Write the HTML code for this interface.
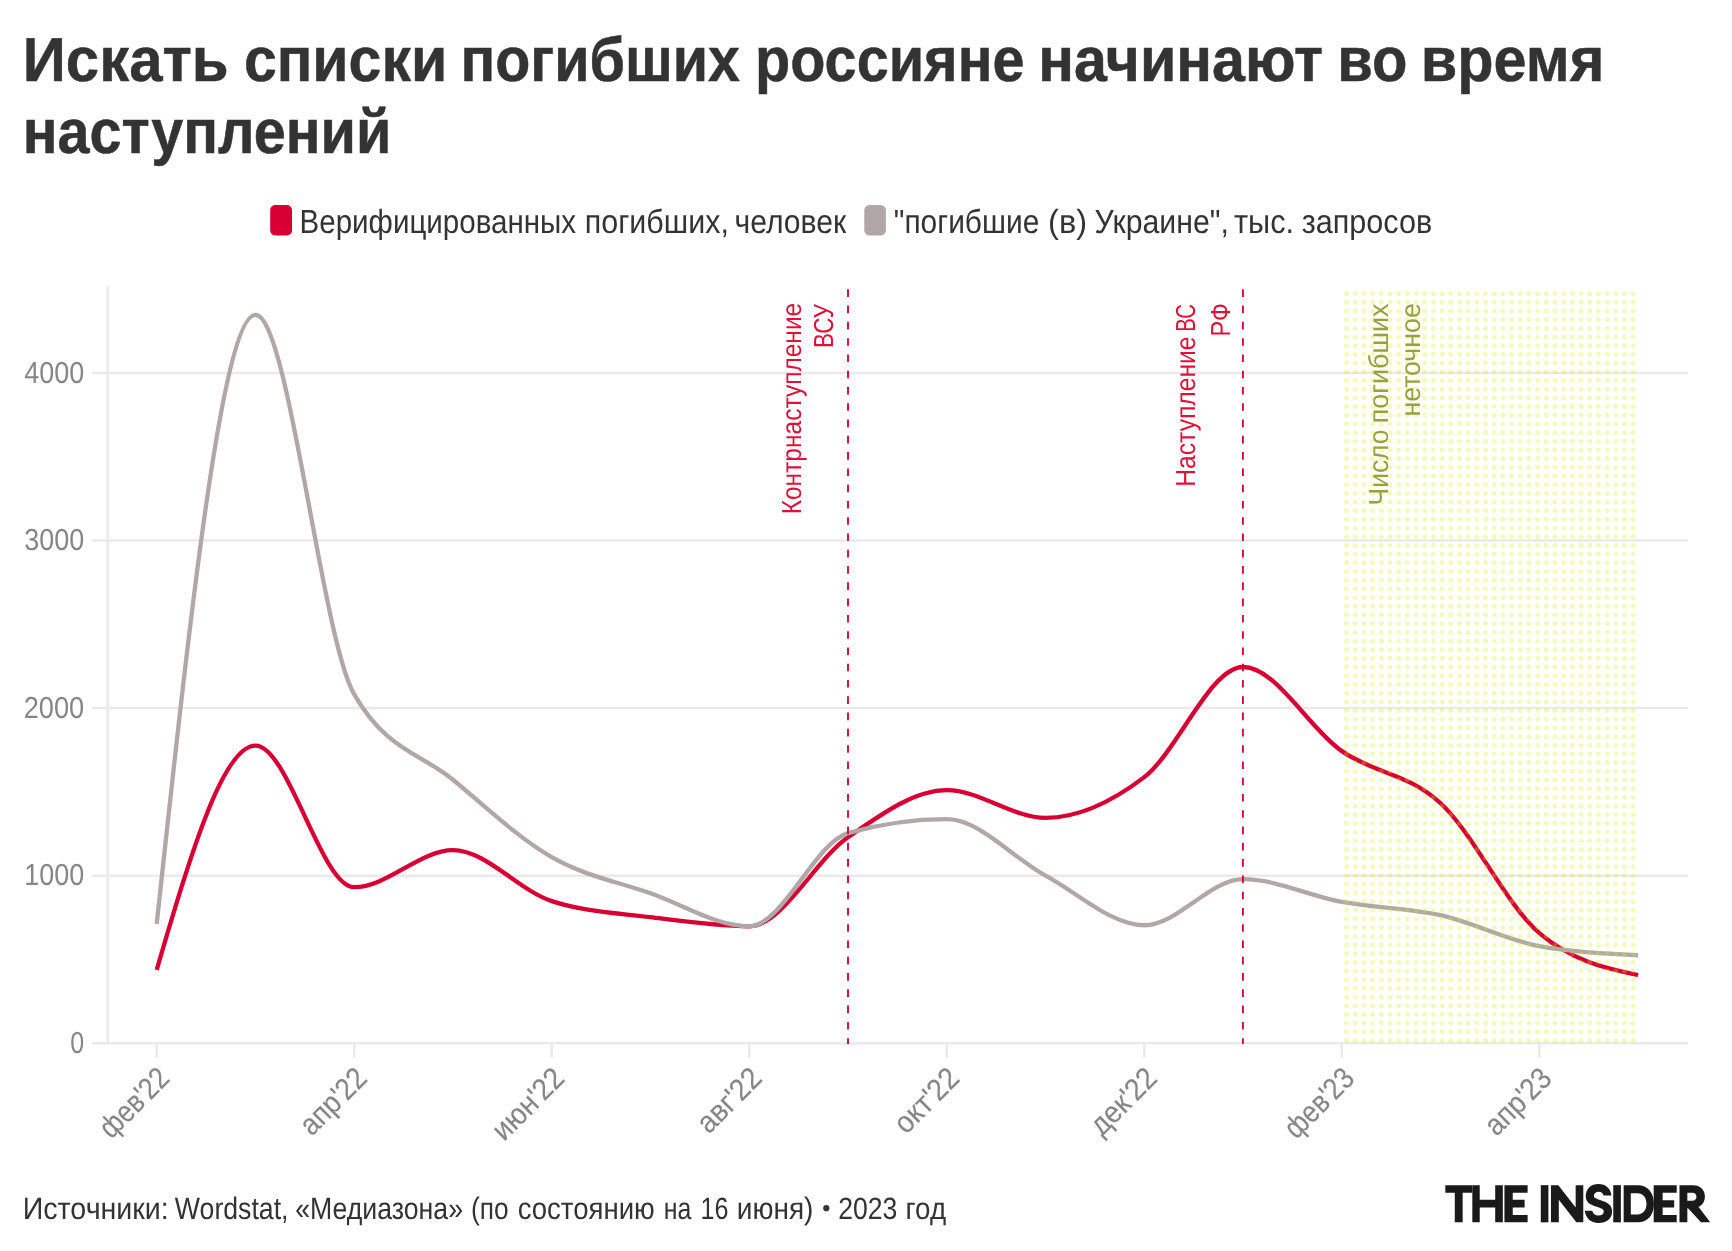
<!DOCTYPE html>
<html lang="ru"><head><meta charset="utf-8"><title>Chart</title>
<style>
html,body{margin:0;padding:0;background:#fff;}
body{width:1732px;height:1251px;overflow:hidden;font-family:"Liberation Sans",sans-serif;}
svg{display:block;will-change:transform;}
svg text{font-family:"Liberation Sans",sans-serif;white-space:pre;text-rendering:geometricPrecision;}
</style></head><body>
<svg width="1732" height="1251" viewBox="0 0 1732 1251">
<defs>
<pattern id="dots" x="1342.2" y="289.2" width="8.685" height="8.685" patternUnits="userSpaceOnUse"><circle cx="4.34" cy="4.34" r="2.5" fill="#d2f000" fill-opacity="0.28"/></pattern>
</defs>
<rect width="1732" height="1251" fill="#fff"/>
<g fill="#333333" stroke="#333333" stroke-width="0.5" font-weight="700" font-size="62.30">
<text transform="translate(22.80,80.90) scale(0.9619,1)">Искать</text>
<text transform="translate(243.89,80.90) scale(0.9470,1)">списки</text>
<text transform="translate(460.48,80.90) scale(0.9215,1)">погибших</text>
<text transform="translate(755.01,80.90) scale(0.9244,1)">россияне</text>
<text transform="translate(1038.36,80.90) scale(0.9500,1)">начинают</text>
<text transform="translate(1337.19,80.90) scale(0.9302,1)">во</text>
<text transform="translate(1420.84,80.90) scale(0.9533,1)">время</text>
<text transform="translate(22.67,152.60) scale(0.9244,1)">наступлений</text>
</g>
<rect x="270.2" y="205.1" width="21.8" height="30.3" rx="5" fill="#d80032"/>
<rect x="864.3" y="205.1" width="21.6" height="30.3" rx="5.2" fill="#b1a7a6"/>
<g fill="#333333" font-size="33.40">
<text transform="translate(299.54,232.80) scale(0.8845,1)">Верифицированных</text>
<text transform="translate(584.87,232.80) scale(0.9113,1)">погибших,</text>
<text transform="translate(734.44,232.80) scale(0.9023,1)">человек</text>
<text transform="translate(893.80,232.80) scale(0.8957,1)">"погибшие</text>
<text transform="translate(1048.05,232.80) scale(0.9748,1)">(в)</text>
<text transform="translate(1094.59,232.80) scale(0.9062,1)">Украине",</text>
<text transform="translate(1234.04,232.80) scale(0.9209,1)">тыс.</text>
<text transform="translate(1301.74,232.80) scale(0.9160,1)">запросов</text>
</g>
<g stroke="#eaeaea" stroke-width="2.5" fill="none">
<line x1="92" x2="1688.2" y1="1043.20" y2="1043.20"/>
<line x1="92" x2="1688.2" y1="875.63" y2="875.63"/>
<line x1="92" x2="1688.2" y1="708.06" y2="708.06"/>
<line x1="92" x2="1688.2" y1="540.49" y2="540.49"/>
<line x1="92" x2="1688.2" y1="372.92" y2="372.92"/>
<line x1="107.7" x2="107.7" y1="286.4" y2="1044.30"/>
<line x1="156.70" x2="156.70" y1="1043.20" y2="1057.70"/>
<line x1="354.22" x2="354.22" y1="1043.20" y2="1057.70"/>
<line x1="551.74" x2="551.74" y1="1043.20" y2="1057.70"/>
<line x1="749.26" x2="749.26" y1="1043.20" y2="1057.70"/>
<line x1="946.78" x2="946.78" y1="1043.20" y2="1057.70"/>
<line x1="1144.30" x2="1144.30" y1="1043.20" y2="1057.70"/>
<line x1="1341.82" x2="1341.82" y1="1043.20" y2="1057.70"/>
<line x1="1539.34" x2="1539.34" y1="1043.20" y2="1057.70"/>
</g>
<g fill="#868686" font-size="30.40">
<text transform="translate(70.30,1052.80) scale(0.8224,1)">0</text>
<text transform="translate(24.28,885.23) scale(0.8865,1)">1000</text>
<text transform="translate(23.64,717.66) scale(0.8962,1)">2000</text>
<text transform="translate(24.32,550.09) scale(0.8859,1)">3000</text>
<text transform="translate(24.26,382.52) scale(0.8868,1)">4000</text>
</g>
<g fill="#868686" stroke="#868686" stroke-width="0.15" font-size="30.40">
<text transform="translate(111.37,1139.73) rotate(-45) scale(0.8645,1)">фев'22</text>
<text transform="translate(311.70,1136.92) rotate(-45) scale(0.8956,1)">апр'22</text>
<text transform="translate(504.02,1142.12) rotate(-45) scale(0.9128,1)">июн'22</text>
<text transform="translate(708.83,1134.83) rotate(-45) scale(0.9257,1)">авг'22</text>
<text transform="translate(905.99,1135.19) rotate(-45) scale(0.9284,1)">окт'22</text>
<text transform="translate(1101.64,1137.06) rotate(-45) scale(0.9215,1)">дек'22</text>
<text transform="translate(1296.28,1139.94) rotate(-45) scale(0.8649,1)">фев'23</text>
<text transform="translate(1496.60,1137.14) rotate(-45) scale(0.8959,1)">апр'23</text>
</g>
<path d="M156.70,969.80C189.62,857.70,222.54,745.60,255.46,745.60C288.38,745.60,321.30,887.19,354.22,887.19C387.14,887.19,420.06,850.16,452.98,850.16C485.90,850.16,518.82,890.38,551.74,901.10C584.66,911.83,617.58,913.00,650.50,917.19C683.42,921.38,716.34,926.24,749.26,926.24C782.18,926.24,815.10,859.93,848.02,837.26C880.94,814.58,913.86,790.17,946.78,790.17C979.70,790.17,1012.62,817.82,1045.54,817.82C1078.46,817.82,1111.38,802.23,1144.30,777.10C1177.22,751.96,1210.14,667.01,1243.06,667.01C1275.98,667.01,1308.90,728.42,1341.82,751.13C1374.74,773.83,1407.66,772.91,1440.58,803.24C1473.50,833.57,1506.42,905.18,1539.34,933.11C1572.26,961.03,1605.18,968.02,1638.10,975.00" fill="none" stroke="#d80032" stroke-width="4.3" stroke-linejoin="round"/>
<path d="M156.70,924.06C189.62,619.50,222.54,314.94,255.46,314.94C288.38,314.94,321.30,637.35,354.22,694.32C387.14,751.29,420.06,752.63,452.98,779.78C485.90,806.93,518.82,838.29,551.74,857.20C584.66,876.10,617.58,881.72,650.50,893.22C683.42,904.73,716.34,926.24,749.26,926.24C782.18,926.24,815.10,842.34,848.02,833.07C880.94,823.80,913.86,819.16,946.78,819.16C979.70,819.16,1012.62,857.95,1045.54,875.63C1078.46,893.31,1111.38,925.23,1144.30,925.23C1177.22,925.23,1210.14,879.15,1243.06,879.15C1275.98,879.15,1308.90,895.93,1341.82,901.94C1374.74,907.94,1407.66,907.80,1440.58,915.18C1473.50,922.55,1506.42,940.14,1539.34,946.18C1572.26,952.21,1605.18,953.72,1638.10,955.23" fill="none" stroke="#b1a7a6" stroke-width="4.3" stroke-linejoin="round"/>
<rect x="1343.5" y="288.7" width="294.80" height="754.50" fill="url(#dots)"/>
<g stroke="#d80032" stroke-width="1.85" stroke-dasharray="7.6 8.68" fill="none">
<line x1="848.0" x2="848.0" y1="289.3" y2="1044.00"/>
<line x1="1242.9" x2="1242.9" y1="289.3" y2="1044.00"/>
</g>
<g font-size="27.50">
<text transform="translate(801.20,514.36) rotate(-90) scale(0.8915,1)" fill="#dc1238">Контрнаступление</text>
<text transform="translate(833.30,347.89) rotate(-90) scale(0.8141,1)" fill="#dc1238">ВСУ</text>
<text transform="translate(1195.40,331.63) rotate(-90) scale(0.7390,1)" fill="#dc1238">ВС</text>
<text transform="translate(1195.40,486.77) rotate(-90) scale(0.8966,1)" fill="#dc1238">Наступление</text>
<text transform="translate(1230.00,336.38) rotate(-90) scale(0.8523,1)" fill="#dc1238">РФ</text>
<text transform="translate(1387.60,423.28) rotate(-90) scale(0.9775,1)" fill="#96a242">погибших</text>
<text transform="translate(1387.60,505.41) rotate(-90) scale(0.9596,1)" fill="#96a242">Число</text>
<text transform="translate(1420.20,416.57) rotate(-90) scale(0.9715,1)" fill="#96a242">неточное</text>
</g>
<g fill="#333333" font-size="30.90">
<text transform="translate(22.71,1218.70) scale(0.9263,1)">Источники:</text>
<text transform="translate(174.87,1218.70) scale(0.8634,1)">Wordstat,</text>
<text transform="translate(295.18,1218.70) scale(0.8638,1)">«Медиазона»</text>
<text transform="translate(470.92,1218.70) scale(0.8516,1)">(по</text>
<text transform="translate(517.65,1218.70) scale(0.8925,1)">состоянию</text>
<text transform="translate(663.76,1218.70) scale(0.8052,1)">на</text>
<text transform="translate(700.62,1218.70) scale(0.8131,1)">16</text>
<text transform="translate(736.79,1218.70) scale(0.9068,1)">июня)</text>
<text transform="translate(838.17,1218.70) scale(0.8602,1)">2023</text>
<text transform="translate(905.56,1218.70) scale(0.8976,1)">год</text>
</g>
<circle cx="826.3" cy="1208.2" r="3.1" fill="#333333"/>
<g fill="#1a1a1a">
<g transform="translate(1440,1178) scale(0.046189)">
<path d="M115,155 H700 V320 H490 V960 H320 V320 H115 Z"/>
<path d="M700,155 H860 V470 H1195 V155 H1360 V960 H1195 V640 H860 V960 H700 Z"/>
<path d="M1395,155 H1897 V320 H1575 V470 H1832 V640 H1575 V800 H1897 V960 H1395 Z"/>
</g>
<g transform="translate(1520,1178) scale(0.046189)">
<path d="M450,155 H615 V960 H450 Z"/>
<path d="M670,155 H830 L1205,640 V155 H1370 V960 H1220 L840,470 V960 H670 Z"/>
</g>
<g transform="translate(1580,1178) scale(0.046189)">
<path d="M680,380 C665,230 560,130 400,130 C240,130 125,230 125,395 C125,530 220,580 380,630 C470,660 515,680 515,725 C515,780 470,812 400,812 C330,812 280,775 265,710 L105,710 C120,870 235,975 400,975 C575,975 695,880 695,720 C695,590 610,530 450,480 C350,450 300,430 300,390 C300,335 345,298 400,298 C460,298 500,330 510,380 Z"/>
<path d="M720,155 H885 V960 H720 Z"/>
<path fill-rule="evenodd" d="M945,155 H1250 C1470,155 1600,320 1600,557 C1600,795 1470,960 1250,960 H945 Z M1100,330 V790 H1240 C1370,790 1440,690 1440,560 C1440,430 1370,330 1240,330 Z"/>
</g>
<g transform="translate(1640,1178) scale(0.046189)">
<path d="M296,155 H795 V320 H490 V480 H740 V640 H490 V800 H795 V960 H296 Z"/>
<path fill-rule="evenodd" d="M855,155 H1150 C1310,155 1405,260 1405,400 C1405,510 1350,590 1265,625 L1520,960 H1320 L1040,655 H1025 V960 H855 Z M1025,320 V490 H1130 C1190,490 1222,455 1222,405 C1222,355 1190,320 1130,320 Z"/>
</g>
</g>
</svg>
</body></html>
